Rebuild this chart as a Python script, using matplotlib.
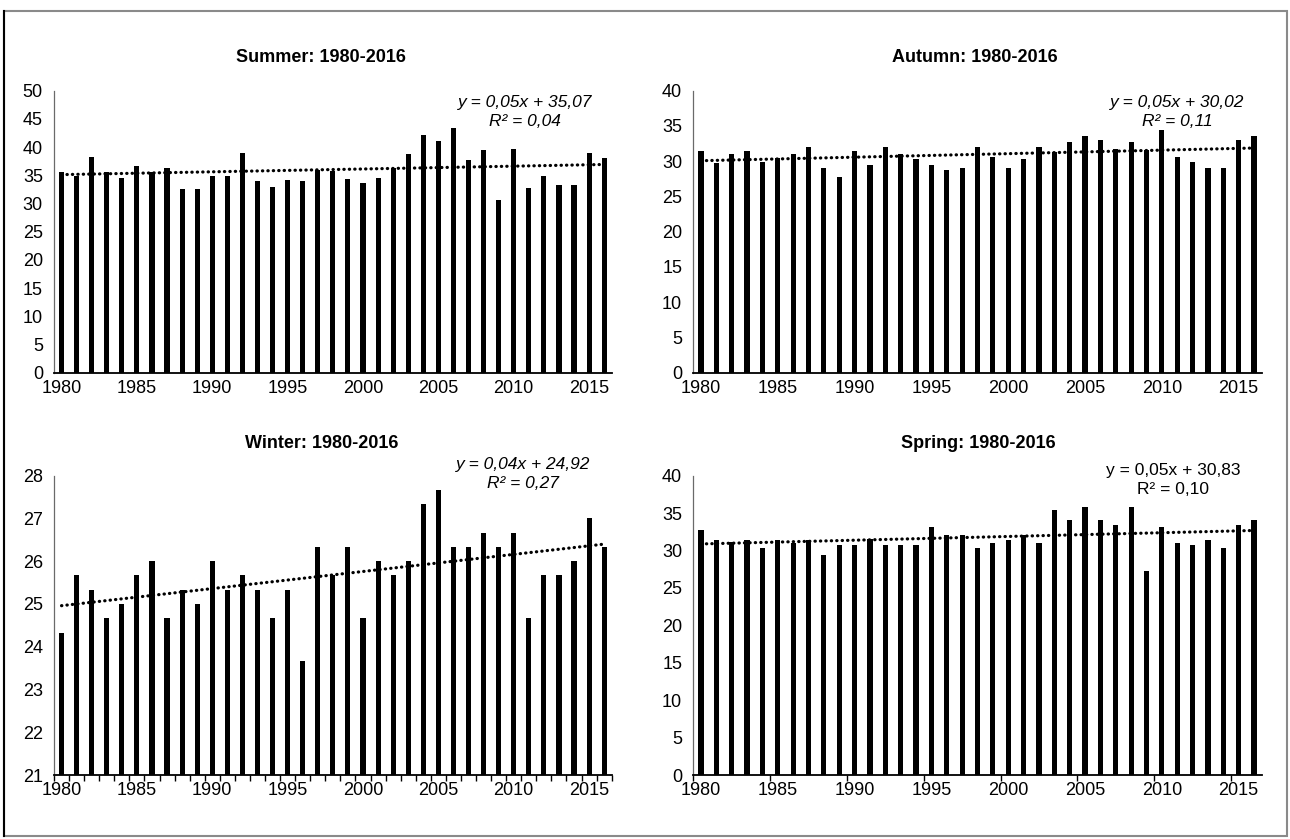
import numpy as np
import matplotlib
matplotlib.use("Agg")
import matplotlib.pyplot as plt
from matplotlib import font_manager
from matplotlib.patches import Rectangle
from matplotlib.lines import Line2D

plt.rcParams['font.family'] = ['Liberation Sans', 'DejaVu Sans']

# tick labels in the original are tall and narrow
_names = {f.name for f in font_manager.fontManager.ttflist}
if 'Liberation Sans Narrow' in _names:
    TICK_FONT, TICK_FS = 'Liberation Sans Narrow', 15
else:
    TICK_FONT, TICK_FS = 'Liberation Sans', 13

W, H = 1290, 839

years = list(range(1980, 2017))

summer = [35.6, 34.9, 38.3, 35.6, 34.5, 36.6, 35.6, 36.3, 32.6, 32.6,
          34.8, 34.8, 39.0, 34.0, 33.0, 34.2, 34.0, 36.0, 35.8, 34.3,
          33.7, 34.6, 36.3, 38.7, 42.1, 41.0, 43.3, 37.7, 39.4, 30.7,
          39.7, 32.7, 34.9, 33.3, 33.3, 39.0, 38.0]

autumn = [31.4, 29.8, 31.0, 31.4, 29.9, 30.4, 31.0, 32.0, 29.0, 27.7,
          31.4, 29.4, 32.0, 31.0, 30.3, 29.4, 28.7, 29.0, 32.0, 30.6,
          29.0, 30.3, 32.0, 31.3, 32.7, 33.6, 33.0, 31.7, 32.7, 31.6,
          34.4, 30.6, 29.9, 29.0, 29.0, 33.0, 33.6]

winter = [24.33, 25.67, 25.33, 24.67, 25.0, 25.67, 26.0, 24.67, 25.33, 25.0,
          26.0, 25.33, 25.67, 25.33, 24.67, 25.33, 23.67, 26.33, 25.67, 26.33,
          24.67, 26.0, 25.67, 26.0, 27.33, 27.67, 26.33, 26.33, 26.67, 26.33,
          26.67, 24.67, 25.67, 25.67, 26.0, 27.0, 26.33]

spring = [32.7, 31.4, 31.2, 31.4, 30.4, 31.4, 31.0, 31.4, 29.4, 30.7,
          30.7, 31.5, 30.7, 30.7, 30.7, 33.1, 32.1, 32.1, 30.4, 31.0,
          31.4, 32.1, 31.0, 35.4, 34.1, 35.8, 34.1, 33.4, 35.8, 27.3,
          33.1, 31.0, 30.7, 31.4, 30.4, 33.4, 34.1]

# trend line coefficients (slope, intercept, R²) as printed on the chart
trends = {
    'Summer': (0.05, 35.07, 0.04),
    'Autumn': (0.05, 30.02, 0.11),
    'Winter': (0.04, 24.92, 0.27),
    'Spring': (0.05, 30.83, 0.10),
}

label_years = [1980, 1985, 1990, 1995, 2000, 2005, 2010, 2015]


def px_box(left, top, right, bottom):
    return [left / W, 1 - bottom / H, (right - left) / W, (bottom - top) / H]


fig = plt.figure(figsize=(W / 100, H / 100), dpi=100)

# outer frame
fig.patches.append(Rectangle((4 / W, 1 - 836 / H), 1283 / W, 825 / H,
                             transform=fig.transFigure, fill=False,
                             edgecolor='#8a8a8a', lw=1.5))
fig.lines.append(Line2D([4 / W, 4 / W], [1 - 836 / H, 1 - 11 / H],
                        transform=fig.transFigure, color='black', lw=1.5))

panels = [
    # name, data, axes box, ylim, ystep, title pos, eq pos, italic, xtick style
    ('Summer', summer, px_box(54, 90.7, 611.7, 372.7), (0, 50), 5, (321, 57), (525, 103, 122), True, 'none'),
    ('Autumn', autumn, px_box(693.3, 90.7, 1261.7, 372.7), (0, 40), 5, (975, 57), (1177, 103, 122), True, 'none'),
    ('Winter', winter, px_box(54, 475.7, 611.7, 775), (21, 28), 1, (322, 443), (523, 464, 483), True, 'every'),
    ('Spring', spring, px_box(693.3, 475.7, 1261.7, 775), (0, 40), 5, (978, 443), (1173, 471, 489), False, 'five'),
]

for name, vals, box, ylim, ystep, tpos, epos, italic, tickstyle in panels:
    ax = fig.add_axes(box)
    x = np.arange(len(years))
    ax.bar(x, vals, width=0.34, color='black', zorder=2)

    a, b, r2 = trends[name]
    xs = np.arange(1, len(years) + 1)
    ax.plot(x, a * xs + b, color='black', lw=2.3,
            linestyle=(0, (0.1, 1.6)), dash_capstyle='round', zorder=3)

    ax.set_xlim(-0.5, len(years) - 0.5)
    ax.set_ylim(*ylim)
    ax.set_yticks(np.arange(ylim[0], ylim[1] + 0.1, ystep))
    ax.tick_params(axis='y', length=0, pad=8)

    ax.set_xticks([y - 1980 for y in label_years])
    ax.set_xticklabels([str(y) for y in label_years])
    ax.tick_params(axis='x', length=0, pad=5)
    for lab in ax.get_xticklabels() + ax.get_yticklabels():
        lab.set_family([TICK_FONT, 'DejaVu Sans'])
        lab.set_fontsize(TICK_FS)
    if tickstyle == 'every':
        ax.set_xticks(np.arange(-0.5, len(years), 1.0), minor=True)
        ax.tick_params(axis='x', which='minor', length=4, width=1, direction='out')
    elif tickstyle == 'five':
        ax.set_xticks(np.arange(-0.5, len(years), 5.0), minor=True)
        ax.tick_params(axis='x', which='minor', length=4, width=1, direction='out')

    for s in ('top', 'right'):
        ax.spines[s].set_visible(False)
    ax.spines['left'].set_color('#6a6a6a')
    ax.spines['left'].set_linewidth(0.9)
    ax.spines['bottom'].set_color('black')
    ax.spines['bottom'].set_linewidth(1.3)

    fig.text(tpos[0] / W, 1 - tpos[1] / H, f'{name}: 1980-2016',
             ha='center', va='center', fontsize=13, fontweight='bold')

    style = 'italic' if italic else 'normal'
    eq = f'y = {a:.2f}x + {b:.2f}'.replace('.', ',')
    rr = f'R² = {r2:.2f}'.replace('.', ',')
    fig.text(epos[0] / W, 1 - epos[1] / H, eq, ha='center', va='center',
             fontsize=12.5, style=style)
    fig.text(epos[0] / W, 1 - epos[2] / H, rr, ha='center', va='center',
             fontsize=12.5, style=style)

fig.savefig('out.png', dpi=100)
